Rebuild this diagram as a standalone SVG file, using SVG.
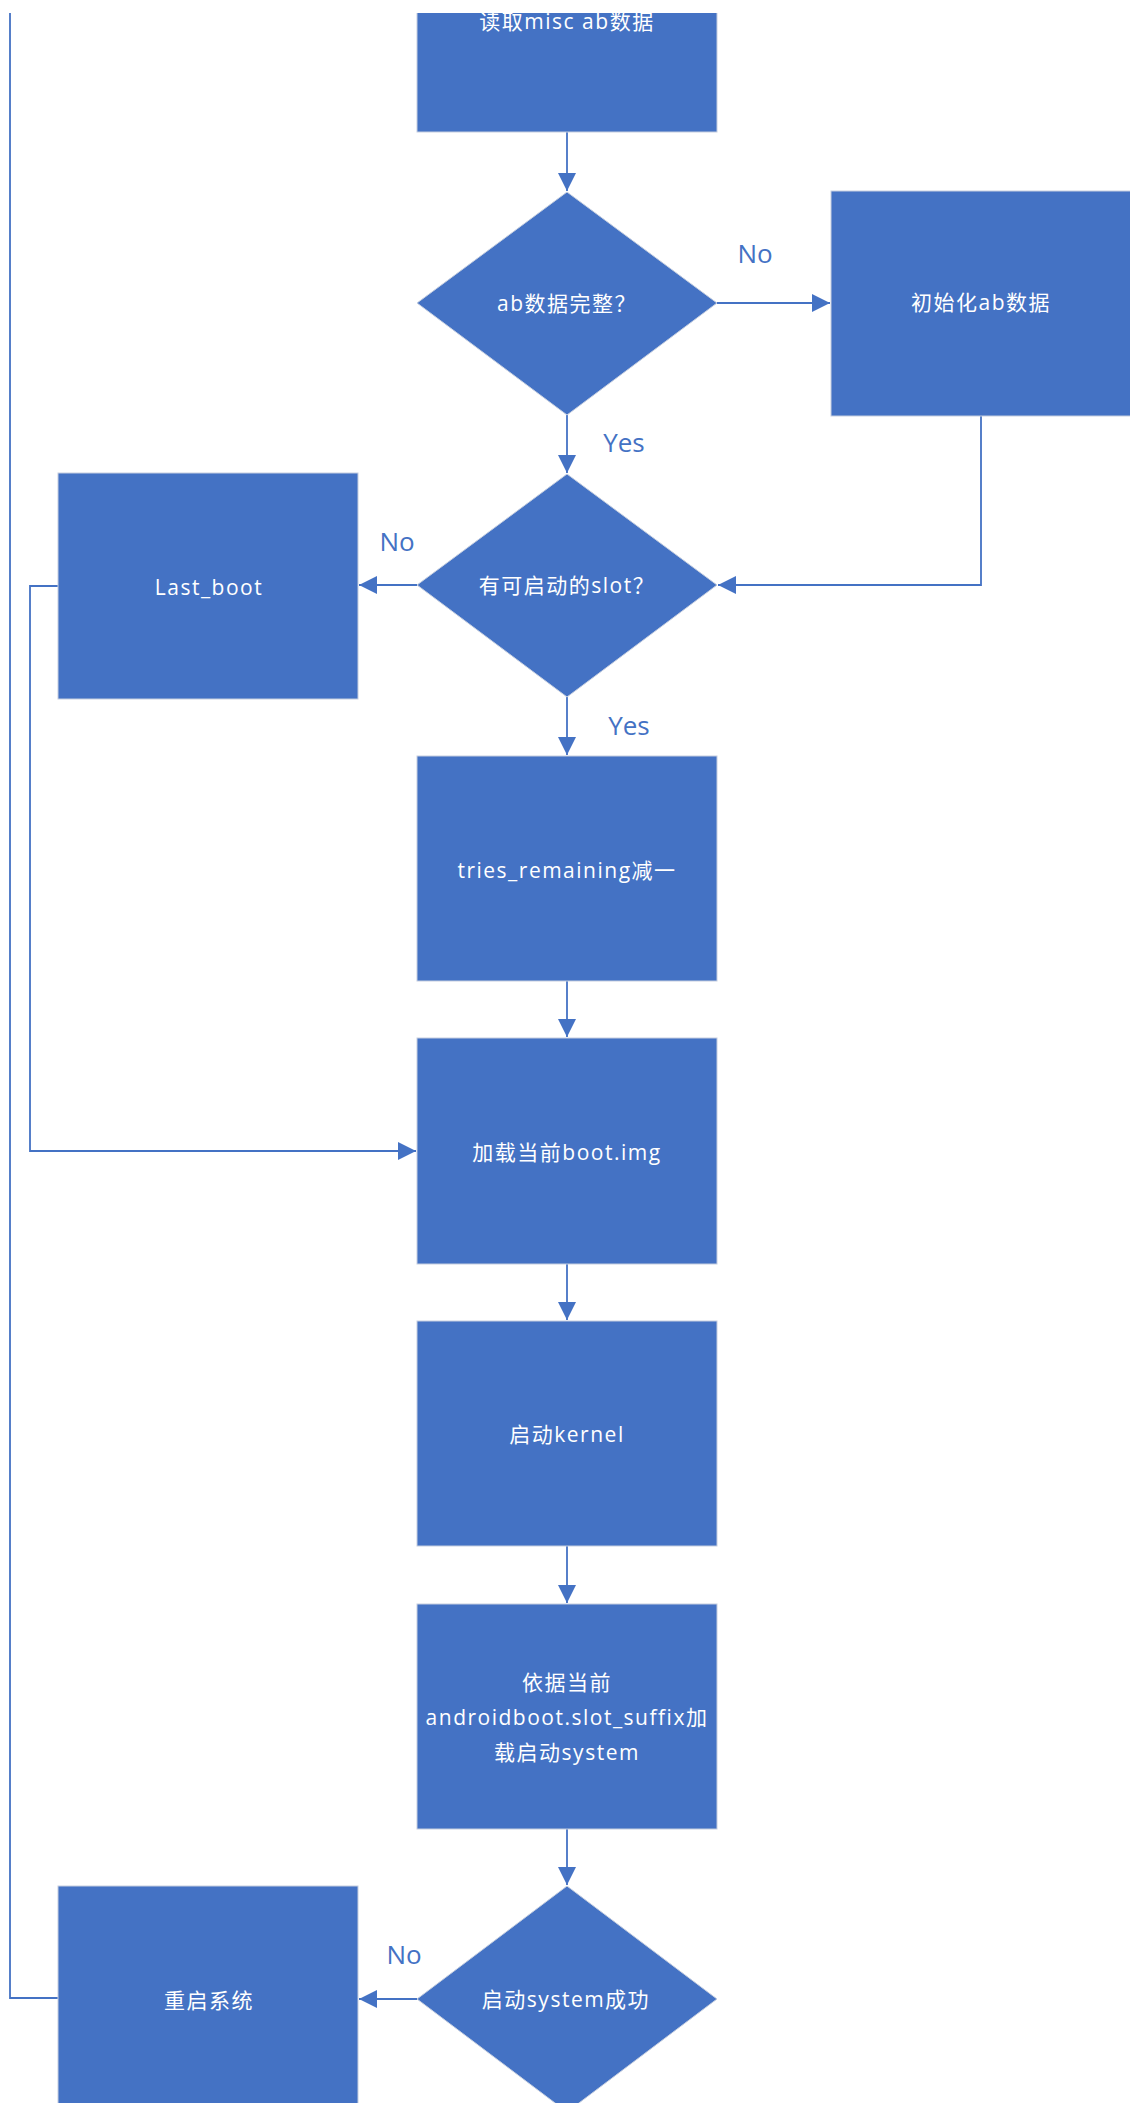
<svg xmlns="http://www.w3.org/2000/svg" width="1130" height="2103" viewBox="0 0 1130 2103">
<defs>
<style>
.box{fill:#4472C4;stroke:#C5CEDF;stroke-width:1}
.t{font-family:"Open Sans","Noto Sans CJK SC",sans-serif;font-size:21px;fill:#FFFFFF;text-anchor:middle;dominant-baseline:central;letter-spacing:1.5px}
.lbl{font-family:"Open Sans","Noto Sans CJK SC",sans-serif;font-size:26px;fill:#4472C4;text-anchor:middle;dominant-baseline:central}
.c{fill:none;stroke:#4472C4;stroke-width:1.8}
</style>
<marker id="ah" markerUnits="userSpaceOnUse" markerWidth="18" markerHeight="18" refX="18" refY="9" orient="auto">
<path d="M0,0 L18,9 L0,18 z" fill="#4472C4"/>
</marker>
<clipPath id="cp"><rect x="0" y="13" width="1130" height="2090"/></clipPath>
</defs>
<rect x="0" y="0" width="1130" height="2103" fill="#FFFFFF"/>
<g clip-path="url(#cp)">
<g id="connectors">
<path class="c" d="M567,132 V191" marker-end="url(#ah)"/>
<path class="c" d="M567,415 V473" marker-end="url(#ah)"/>
<path class="c" d="M717,303 H830" marker-end="url(#ah)"/>
<path class="c" d="M981,416 V585 H718" marker-end="url(#ah)"/>
<path class="c" d="M417,585 H359" marker-end="url(#ah)"/>
<path class="c" d="M58,586 H30 V1151 H416" marker-end="url(#ah)"/>
<path class="c" d="M567,697 V755" marker-end="url(#ah)"/>
<path class="c" d="M567,981 V1037" marker-end="url(#ah)"/>
<path class="c" d="M567,1264 V1320" marker-end="url(#ah)"/>
<path class="c" d="M567,1546 V1603" marker-end="url(#ah)"/>
<path class="c" d="M567,1829 V1885" marker-end="url(#ah)"/>
<path class="c" d="M417,1999 H359" marker-end="url(#ah)"/>
<path class="c" d="M58,1998 H10 V0"/>
<text class="lbl" x="624" y="442">Yes</text>
<text class="lbl" x="755" y="253">No</text>
<text class="lbl" x="397" y="541">No</text>
<text class="lbl" x="629" y="725">Yes</text>
<text class="lbl" x="404" y="1954">No</text>
</g>
<g id="n1"><rect class="box" x="417" y="-93" width="300" height="225"/><text class="t" x="567" y="21">读取misc ab数据</text></g>
<g id="n2"><polygon class="box" points="567,192 717,303 567,415 417,303"/><text class="t" x="567" y="303">ab数据完整？</text></g>
<g id="n3"><rect class="box" x="831" y="191" width="300" height="225"/><text class="t" x="981" y="302">初始化ab数据</text></g>
<g id="n4"><polygon class="box" points="567,474 717,585 567,697 417,585"/><text class="t" x="567" y="585">有可启动的slot？</text></g>
<g id="n5"><rect class="box" x="58" y="473" width="300" height="226"/><text class="t" x="209" y="587">Last_boot</text></g>
<g id="n6"><rect class="box" x="417" y="756" width="300" height="225"/><text class="t" x="567" y="870">tries_remaining减一</text></g>
<g id="n7"><rect class="box" x="417" y="1038" width="300" height="226"/><text class="t" x="567" y="1152">加载当前boot.img</text></g>
<g id="n8"><rect class="box" x="417" y="1321" width="300" height="225"/><text class="t" x="567" y="1434">启动kernel</text></g>
<g id="n9"><rect class="box" x="417" y="1604" width="300" height="225"/><text class="t" x="567" y="1682">依据当前</text><text class="t" x="567" y="1717">androidboot.slot_suffix加</text><text class="t" x="567" y="1752">载启动system</text></g>
<g id="n10"><polygon class="box" points="567,1886 717,1999 567,2112 417,1999"/><text class="t" x="566" y="1999">启动system成功</text></g>
<g id="n11"><rect class="box" x="58" y="1886" width="300" height="226"/><text class="t" x="209" y="2000">重启系统</text></g>
</g>
</svg>
